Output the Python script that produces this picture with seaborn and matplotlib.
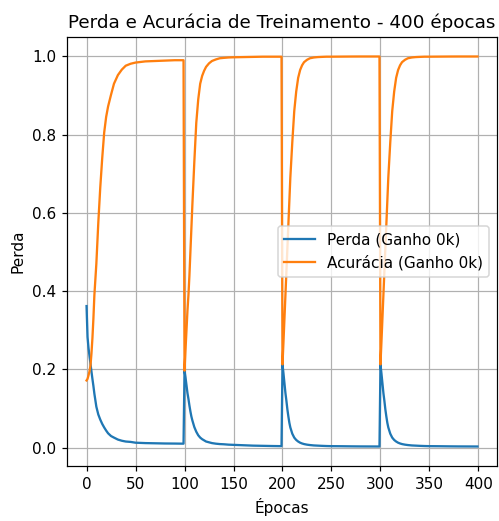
import numpy as np
import pandas as pd
import matplotlib
matplotlib.use("Agg")
import matplotlib.pyplot as plt
import seaborn as sns

# Epochs (within each 100-epoch training cycle) at which metrics were logged
epoch_offsets = [0, 1, 2, 3, 4, 5, 6, 7, 8, 10, 12, 14, 16, 18, 20, 22, 25, 28,
                 32, 36, 40, 45, 50, 60, 70, 80, 90, 99]

# Training loss per cycle
loss_c1 = [0.362, 0.283, 0.255, 0.235, 0.215, 0.195, 0.176, 0.158, 0.138, 0.105,
           0.085, 0.072, 0.061, 0.052, 0.044, 0.037, 0.030, 0.026, 0.021, 0.018,
           0.016, 0.015, 0.013, 0.012, 0.0115, 0.011, 0.0108, 0.0105]
loss_c2 = [0.197, 0.18, 0.16, 0.14, 0.125, 0.108, 0.093, 0.080, 0.070, 0.053,
           0.041, 0.032, 0.026, 0.022, 0.019, 0.016, 0.014, 0.012, 0.0105, 0.0095,
           0.009, 0.008, 0.0075, 0.0065, 0.0055, 0.005, 0.0045, 0.0042]
loss_c3 = [0.213, 0.19, 0.165, 0.14, 0.12, 0.098, 0.080, 0.064, 0.052, 0.036,
           0.026, 0.020, 0.016, 0.013, 0.011, 0.0095, 0.008, 0.007, 0.006, 0.0055,
           0.005, 0.0045, 0.0042, 0.004, 0.0037, 0.0035, 0.0034, 0.0033]
loss_c4 = [0.213, 0.19, 0.165, 0.14, 0.12, 0.098, 0.080, 0.064, 0.052, 0.036,
           0.026, 0.020, 0.016, 0.013, 0.011, 0.0095, 0.008, 0.007, 0.006, 0.0055,
           0.005, 0.0045, 0.0042, 0.004, 0.0037, 0.0035, 0.0034, 0.0033]

# Training accuracy per cycle
acc_c1 = [0.172, 0.176, 0.185, 0.195, 0.21, 0.24, 0.28, 0.33, 0.39, 0.47,
          0.575, 0.665, 0.74, 0.805, 0.845, 0.872, 0.902, 0.93, 0.952, 0.966,
          0.976, 0.981, 0.984, 0.987, 0.988, 0.989, 0.99, 0.99]
acc_c2 = [0.197, 0.25, 0.30, 0.35, 0.39, 0.44, 0.50, 0.56, 0.62, 0.73,
          0.83, 0.89, 0.93, 0.95, 0.963, 0.973, 0.982, 0.988, 0.992, 0.995,
          0.996, 0.997, 0.9975, 0.998, 0.9985, 0.999, 0.999, 0.999]
acc_c3 = [0.213, 0.27, 0.33, 0.39, 0.45, 0.51, 0.57, 0.63, 0.69, 0.78,
          0.86, 0.91, 0.945, 0.965, 0.977, 0.985, 0.991, 0.995, 0.997, 0.998,
          0.9985, 0.999, 0.999, 0.9992, 0.9994, 0.9995, 0.9995, 0.9995]
acc_c4 = [0.213, 0.27, 0.33, 0.39, 0.45, 0.51, 0.57, 0.63, 0.69, 0.78,
          0.86, 0.91, 0.945, 0.965, 0.977, 0.985, 0.991, 0.995, 0.997, 0.998,
          0.9985, 0.999, 0.999, 0.9992, 0.9994, 0.9995, 0.9995, 0.9995]

cycle_length = 100
loss_cycles = [loss_c1, loss_c2, loss_c3, loss_c4]
acc_cycles = [acc_c1, acc_c2, acc_c3, acc_c4]

epochs = np.concatenate([np.array(epoch_offsets) + i * cycle_length
                         for i in range(len(loss_cycles))])
loss = np.concatenate(loss_cycles)
acc = np.concatenate(acc_cycles)

df = pd.concat([
    pd.DataFrame({"epoca": epochs, "valor": loss, "serie": "Perda (Ganho 0k)"}),
    pd.DataFrame({"epoca": epochs, "valor": acc, "serie": "Acurácia (Ganho 0k)"}),
])

DPI = 110
fig = plt.figure(figsize=(499 / DPI, 521 / DPI), dpi=DPI)
ax = fig.add_axes([67 / 499, 1 - 466 / 521, 430 / 499, 429 / 521])

sns.lineplot(data=df, x="epoca", y="valor", hue="serie",
             palette=["#1f77b4", "#ff7f0e"], linewidth=1.5, ax=ax,
             estimator=None, sort=False)

ax.set_title("Perda e Acurácia de Treinamento - 400 épocas", fontsize=12)
ax.set_xlabel("Épocas")
ax.set_ylabel("Perda")
ax.set_xticks(np.arange(0, 401, 50))
ax.set_yticks(np.arange(0, 1.01, 0.2))
ax.grid(True)
ax.legend(loc="center right", title=None)

fig.savefig("out.png", dpi=DPI)
